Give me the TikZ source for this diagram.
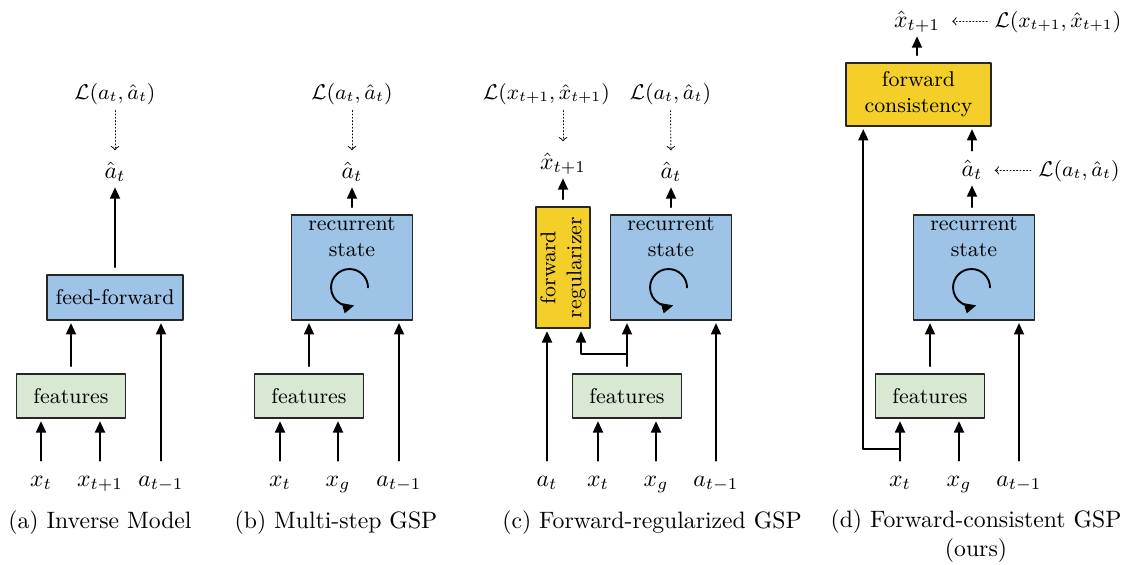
\documentclass[tikz,border=0pt]{standalone}
\usepackage{amsmath,amssymb,amsfonts}
\usepackage{tikz}
\usetikzlibrary{arrows.meta,calc}

\definecolor{boxblue}{RGB}{157,195,230}
\definecolor{boxgreen}{RGB}{217,232,211}
\definecolor{boxyellow}{RGB}{244,207,42}

\tikzset{
  featbox/.style={draw=black!85, line width=0.6pt, fill=boxgreen, minimum width=46pt, minimum height=18.6pt, inner sep=0pt, font=\small},
  ffbox/.style={draw=black!85, line width=0.6pt, fill=boxblue, minimum width=57.4pt, minimum height=19pt, inner sep=0pt, font=\small},
  recbox/.style={draw=black!85, line width=0.6pt, fill=boxblue, minimum width=51.1pt, minimum height=44.3pt, inner sep=0pt},
  regbox/.style={draw=black!85, line width=0.6pt, fill=boxyellow, minimum width=22.8pt, minimum height=51.1pt, inner sep=0pt},
  consbox/.style={draw=black!85, line width=0.6pt, fill=boxyellow, minimum width=61.2pt, minimum height=26.6pt, inner sep=0pt, font=\small, align=center},
  rectext/.style={anchor=north, font=\small, align=center, inner sep=1pt},
  lbl/.style={anchor=base, font=\normalsize, inner sep=1pt, text height=1.5ex, text depth=0.4ex},
  losslbl/.style={anchor=base, font=\small, inner sep=1pt, text height=1.5ex, text depth=0.4ex},
  captext/.style={font=\normalsize, align=center},
  flow/.style={->, thick, shorten <=3pt, shorten >=1pt},
  loss/.style={-to, densely dotted, shorten <=2pt, shorten >=4pt},
  looparrow/.style={->, thick},
}

\begin{document}
\begin{tikzpicture}[line cap=round,line join=round,>={Triangle[length=4.8pt,width=4.2pt]},x=0.422pt,y=-0.422pt]
  \useasboundingbox (0,0) rectangle (1123,564);

  % (a)
  \node[ffbox] (ff_a) at (115,297.5) {feed-forward};
  \node[featbox] (feat_a) at (71,396) {features};
  \node[lbl] (xt_a) at (41,486) {$x_t$};
  \node[lbl] (xt1_a) at (100,486) {$x_{t+1}$};
  \node[lbl] (am_a) at (161,486) {$a_{t-1}$};
  \node[lbl] (ahat_a) at (115,178) {$\hat{a}_t$};
  \node[losslbl] (L_a) at (115,99) {$\mathcal{L}(a_t, \hat{a}_t)$};
  \draw[flow] (xt_a) -- (xt_a |- feat_a.south);
  \draw[flow] (xt1_a) -- (xt1_a |- feat_a.south);
  \draw[flow] (am_a) -- (am_a |- ff_a.south);
  \draw[flow] (feat_a.north) -- (feat_a.north |- ff_a.south);
  \draw[flow] (ff_a) -- (ahat_a);
  \draw[loss] (L_a) -- (ahat_a);
  \node[captext] (cap_a) at (100,523) {(a) Inverse Model};

  % (b)
  \node[recbox] (rs_b) at (352,267.5) {};
  \node[rectext] (rt_b) at (rs_b.north) {recurrent\\state};
  \draw[looparrow] ($(rs_b.center)+(16,20)$) arc[start angle=0, end angle=285, radius=7.8pt];
  \node[featbox] (feat_b) at (309,396) {features};
  \node[lbl] (xt_b) at (280,486) {$x_t$};
  \node[lbl] (xg_b) at (338,486) {$x_g$};
  \node[lbl] (am_b) at (399,486) {$a_{t-1}$};
  \node[lbl] (ahat_b) at (352,178) {$\hat{a}_t$};
  \node[losslbl] (L_b) at (352,99) {$\mathcal{L}(a_t, \hat{a}_t)$};
  \draw[flow] (xt_b) -- (xt_b |- feat_b.south);
  \draw[flow] (xg_b) -- (xg_b |- feat_b.south);
  \draw[flow] (am_b) -- (am_b |- rs_b.south);
  \draw[flow] (feat_b.north) -- (feat_b.north |- rs_b.south);
  \draw[flow] (rs_b) -- (ahat_b);
  \draw[loss] (L_b) -- (ahat_b);
  \node[captext] (cap_b) at (336,523) {(b) Multi-step GSP};

  % (c)
  \node[regbox] (fr_c) at (563,267.5) {};
  \node[rotate=90, font=\small, align=center, inner sep=0pt] (frt_c) at (fr_c.center) {forward\\regularizer};
  \node[recbox] (rs_c) at (671,267.5) {};
  \node[rectext] (rt_c) at (rs_c.north) {recurrent\\state};
  \draw[looparrow] ($(rs_c.center)+(16,20)$) arc[start angle=0, end angle=285, radius=7.8pt];
  \node[featbox] (feat_c) at (627,396) {features};
  \node[lbl] (at_c) at (547,486) {$a_t$};
  \node[lbl] (xt_c) at (598,486) {$x_t$};
  \node[lbl] (xg_c) at (656,486) {$x_g$};
  \node[lbl] (am_c) at (716,486) {$a_{t-1}$};
  \node[lbl] (xh_c) at (563,169) {$\hat{x}_{t+1}$};
  \node[lbl] (ahat_c) at (671,178) {$\hat{a}_t$};
  \node[losslbl] (Lx_c) at (546.5,99) {$\mathcal{L}(x_{t+1}, \hat{x}_{t+1})$};
  \node[losslbl] (La_c) at (670.5,99) {$\mathcal{L}(a_t, \hat{a}_t)$};
  \draw[flow] (at_c) -- (at_c |- fr_c.south);
  \draw[flow] (xt_c) -- (xt_c |- feat_c.south);
  \draw[flow] (xg_c) -- (xg_c |- feat_c.south);
  \draw[flow] (am_c) -- (am_c |- rs_c.south);
  \draw[flow] (feat_c.north) -- (feat_c.north |- rs_c.south);
  \coordinate (br_c) at (627,354);
  \draw[->, thick, shorten >=1pt] (br_c) -| ($(fr_c.south)+(18,0)$);
  \draw[flow] (fr_c) -- (xh_c);
  \draw[flow] (rs_c) -- (ahat_c);
  \draw[loss] (Lx_c.south -| xh_c) -- (xh_c);
  \draw[loss] (La_c) -- (ahat_c);
  \node[captext] (cap_c) at (652,523) {(c) Forward-regularized GSP};

  % (d)
  \node[consbox] (fc_d) at (918.5,94.5) {forward\\consistency};
  \node[recbox] (rs_d) at (974,267.5) {};
  \node[rectext] (rt_d) at (rs_d.north) {recurrent\\state};
  \draw[looparrow] ($(rs_d.center)+(16,20)$) arc[start angle=0, end angle=285, radius=7.8pt];
  \node[featbox] (feat_d) at (930,396) {features};
  \node[lbl] (xt_d) at (900,486) {$x_t$};
  \node[lbl] (xg_d) at (959,486) {$x_g$};
  \node[lbl] (am_d) at (1019,486) {$a_{t-1}$};
  \node[lbl] (ahat_d) at (972,176) {$\hat{a}_t$};
  \node[losslbl] (La_d) at (1079,176) {$\mathcal{L}(a_t, \hat{a}_t)$};
  \node[lbl] (xh_d) at (917,27) {$\hat{x}_{t+1}$};
  \node[losslbl] (Lx_d) at (1058,27) {$\mathcal{L}(x_{t+1}, \hat{x}_{t+1})$};
  \draw[flow] (xt_d) -- (xt_d |- feat_d.south);
  \draw[flow] (xg_d) -- (xg_d |- feat_d.south);
  \draw[flow] (am_d) -- (am_d |- rs_d.south);
  \draw[flow] (feat_d.north) -- (feat_d.north |- rs_d.south);
  \coordinate (br_d) at (900,449);
  \draw[->, thick, shorten >=1pt] (br_d) -| ($(fc_d.south west)+(18,0)$);
  \draw[flow] (rs_d.north -| ahat_d) -- (ahat_d);
  \draw[flow] (ahat_d) -- (ahat_d |- fc_d.south);
  \draw[flow] (fc_d.north -| xh_d) -- (xh_d);
  \draw[loss] (La_d) -- (ahat_d);
  \draw[loss] (Lx_d) -- (xh_d);
  \node[captext] (cap_d) at (976,536) {(d) Forward-consistent GSP\\(ours)};
\end{tikzpicture}
\end{document}
